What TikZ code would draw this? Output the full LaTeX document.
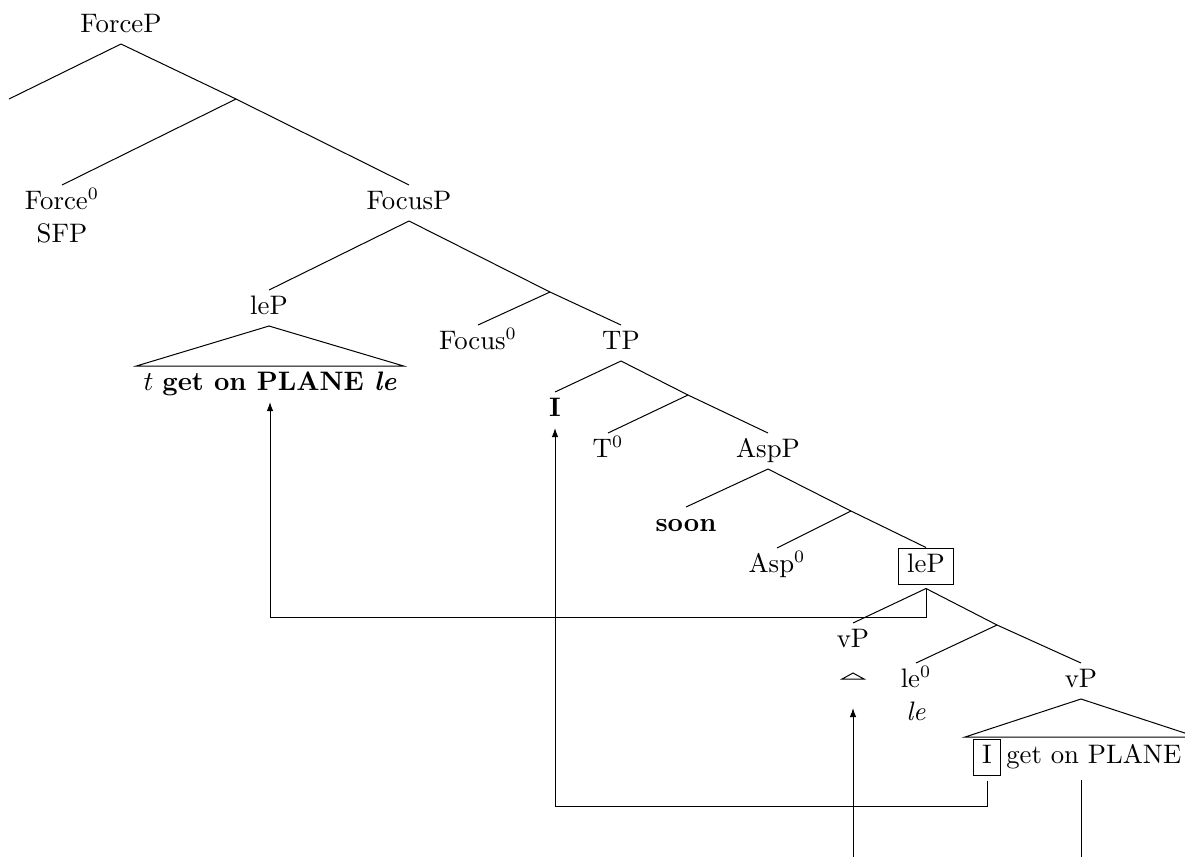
\documentclass[tikz,border=0pt]{standalone}
\usepackage{tikz}
\usetikzlibrary{arrows.meta, positioning}
\tikzstyle{lbl} = [inner sep=2.7pt, text height=6.7pt, text depth=1.9pt, anchor=base, font=\fontsize{10.7}{13.2}\selectfont]
\tikzstyle{boxed} = [lbl, draw, inner xsep=3.4pt, inner ysep=2.9pt]
\tikzstyle{movearrow} = [-{Latex[length=3.6pt, width=2.6pt]}]

\begin{document}
\begin{tikzpicture}[x=0.4pt, y=-0.4pt]
    \useasboundingbox (0,0) rectangle (1185,856);

    % Force layer
    \node[lbl] (forcep) at (121,32) {ForceP};
    \coordinate (forcespec) at (9,99);
    \coordinate (forcebar) at (236,99);
    \node[lbl] (force0) at (62,209) {Force$^0$};
    \node[lbl, below=-1.2pt of force0] (sfp) {SFP};
    \node[lbl] (focusp) at (409,209) {FocusP};

    % Focus layer
    \node[lbl] (lep) at (269,314) {leP};
    \coordinate (focusbar) at (550,292);
    \node[lbl] (focus0) at (478,349) {Focus$^0$};
    \node[lbl] (tp) at (621,349) {TP};
    \node[lbl] (lepcont) at (270,390) {$t$ \textbf{get on PLANE \textit{le}}};

    % T layer
    \node[lbl] (subj) at (555,416) {\textbf{I}};
    \coordinate (tbar) at (688,395);
    \node[lbl] (t0) at (608,457) {T$^0$};
    \node[lbl] (aspp) at (768,457) {AspP};

    % Asp layer
    \node[lbl] (soon) at (686,531) {\textbf{soon}};
    \coordinate (aspbar) at (851,511);
    \node[lbl] (asp0) at (777,572) {Asp$^0$};
    \node[boxed] (lepbox) at (926,572) {leP};
    \coordinate (lephead) at ([yshift=-1.6pt]lepbox.south);

    % le layer
    \node[lbl] (vptop) at (853,647) {vP};
    \coordinate (vproof) at (853,673);
    \node[inner sep=0pt, minimum width=8.4pt, minimum height=11.2pt, anchor=north] (vpgap) at (853,679) {};
    \coordinate (lebar) at (997,625);
    \node[lbl] (le0) at (916,687) {le$^0$};
    \node[lbl, below=-1.2pt of le0] (le) {\textit{le}};
    \node[lbl] (vpbot) at (1081,687) {vP};
    \node[boxed] (ibox) at (987,763) {I};
    \node[lbl, anchor=base west] (vptext) at (999,763) {get on PLANE};
    \coordinate (vpfoot) at (vpbot.south |- vptext.south);

    % Branches
    \draw (forcep.south) -- (forcespec);
    \draw (forcep.south) -- (forcebar) -- (focusp.north);
    \draw (forcebar) -- (force0.north);
    \draw (focusp.south) -- (lep.north);
    \draw (focusp.south) -- (focusbar) -- (tp.north);
    \draw (focusbar) -- (focus0.north);
    \draw (lep.south) -- (lepcont.north west) -- (lepcont.north east) -- cycle;
    \draw (tp.south) -- (subj.north);
    \draw (tp.south) -- (tbar) -- (aspp.north);
    \draw (tbar) -- (t0.north);
    \draw (aspp.south) -- (soon.north);
    \draw (aspp.south) -- (aspbar) -- (lepbox.north);
    \draw (aspbar) -- (asp0.north);
    \draw (lephead) -- (vptop.north);
    \draw (lephead) -- (lebar) -- (vpbot.north);
    \draw (lebar) -- (le0.north);
    \draw (vproof) -- (vpgap.north west) -- (vpgap.north east) -- cycle;
    \draw (vpbot.south) -- ++(-116,38) -- ++(232,0) -- cycle;

    % Movement
    \draw[movearrow] (lephead) -- ++(0,29) -| (lepcont.south);
    \draw[movearrow] ([yshift=-2pt]ibox.south) -- ++(0,26) -| (subj.south);
    \draw[movearrow] ([yshift=-2pt]vpfoot) -- ++(0,100) -| (vpgap.south);
\end{tikzpicture}
\end{document}
